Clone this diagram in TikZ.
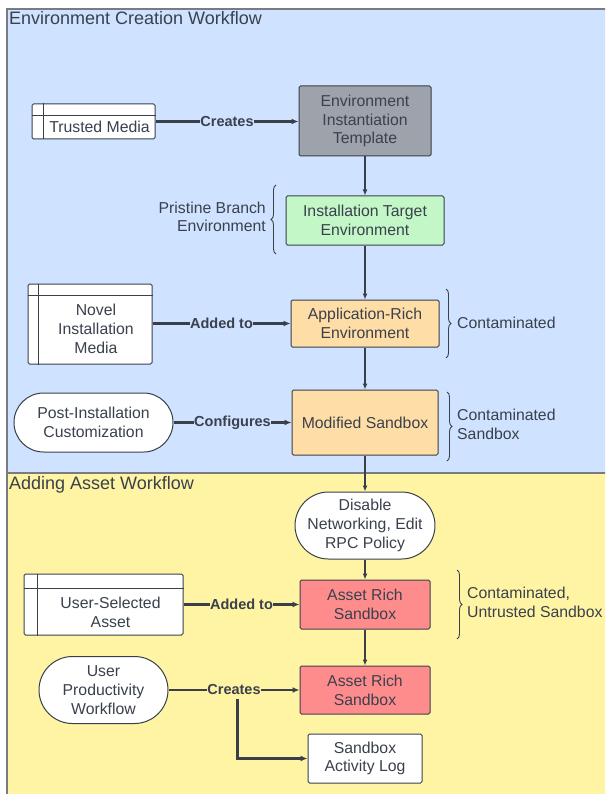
\documentclass[tikz,border=0pt]{standalone}
\usepackage{fontspec}
\setmainfont{Liberation Sans}
\usetikzlibrary{arrows.meta,decorations.pathreplacing,calc,shapes.misc}
\definecolor{lanebl}{RGB}{207,226,255}
\definecolor{laneye}{RGB}{255,244,163}
\definecolor{laneln}{RGB}{120,124,130}
\definecolor{ink}{RGB}{58,65,77}
\definecolor{edgec}{RGB}{58,64,74}
\definecolor{tgray}{RGB}{158,163,171}
\definecolor{tgreen}{RGB}{195,247,200}
\definecolor{torange}{RGB}{255,221,166}
\definecolor{tred}{RGB}{255,140,140}
\begin{document}
\begin{tikzpicture}[x=1pt,y=-1pt,
  every node/.style={text=ink, font=\fontsize{15.8}{18.7}\selectfont, align=center},
  bx/.style 2 args={draw=edgec, line width=1pt, rounded corners=1.5pt, minimum width=#1, minimum height=#2, inner sep=0pt},
  pill/.style 2 args={draw=edgec, line width=1pt, rounded rectangle, minimum width=#1, minimum height=#2, inner sep=0pt, fill=white},
  inline/.style={draw=edgec, line width=1pt},
  plain/.style={inner sep=0pt},
  lbl/.style={font=\bfseries\fontsize{14.5}{17}\selectfont, inner sep=0.5pt},
  harr/.style={draw=edgec, line width=2.2pt, -{Latex[length=7pt,width=6pt]}},
  varr/.style={draw=edgec, line width=1.4pt, -{Latex[length=6pt,width=5pt]}},
  brc/.style={draw=edgec, line width=0.9pt, decorate, decoration={brace, amplitude=5pt}},
  lanetitle/.style={anchor=base west, inner sep=0pt, font=\fontsize{18}{21}\selectfont}
]
\useasboundingbox (0,0) rectangle (605,794);
\begin{scope}
\clip (0,0) rectangle (605,794);
% swimlanes
\fill[lanebl] (7,9) rectangle (620,473);
\fill[laneye] (7,473) rectangle (620,810);
\draw[laneln, line width=1.6pt] (7,810) -- (7,9) -- (620,9);
\draw[laneln, line width=1.2pt] (7,473) -- (620,473);
\end{scope}
\node[lanetitle] (lt1) at (9,25) {Environment Creation Workflow};
\node[lanetitle] (lt2) at (9,489) {Adding Asset Workflow};

% ---- nodes, upper lane
\node[bx={123pt}{35pt}, fill=white] (tm) at (93.5,121.5) {};
\draw[inline] ([yshift=-12pt]tm.north west) -- ([yshift=-12pt]tm.north east);
\draw[inline] ([xshift=12pt]tm.north west) -- ([xshift=12pt]tm.south west);
\node[plain] (tmt) at (99.5,127) {Trusted Media};

\node[bx={132pt}{70pt}, fill=tgray] (tmp) at (365,121) {Environment\\Instantiation\\Template};
\node[bx={158pt}{49pt}, fill=tgreen] (itg) at (365,220.5) {Installation Target\\Environment};
\node[bx={148pt}{47pt}, fill=torange] (app) at (365,323.5) {Application-Rich\\Environment};

\node[bx={124pt}{80pt}, fill=white] (nim) at (90,324) {};
\draw[inline] ([yshift=-12pt]nim.north west) -- ([yshift=-12pt]nim.north east);
\draw[inline] ([xshift=11pt]nim.north west) -- ([xshift=11pt]nim.south west);
\node[plain] (nimt) at (96,329) {Novel\\Installation\\Media};

\node[bx={146pt}{65pt}, fill=torange] (mod) at (365,422.5) {Modified Sandbox};
\node[pill={159pt}{59pt}] (pic) at (93.5,422.5) {Post-Installation\\Customization};

% ---- nodes, lower lane
\node[pill={134pt}{67pt}] (dis) at (365,525.5) {Disable\\Networking, Edit\\RPC Policy};
\node[bx={130pt}{49pt}, fill=tred] (ar1) at (365,604.5) {Asset Rich\\Sandbox};

\node[bx={159pt}{61pt}, fill=white] (usa) at (103.5,604.5) {};
\draw[inline] ([yshift=-15pt]usa.north west) -- ([yshift=-15pt]usa.north east);
\draw[inline] ([xshift=14pt]usa.north west) -- ([xshift=14pt]usa.south west);
\node[plain] (usat) at (110.5,612) {User-Selected\\Asset};

\node[bx={130pt}{48pt}, fill=tred] (ar2) at (365,690) {Asset Rich\\Sandbox};
\node[pill={129pt}{67pt}] (upw) at (103.5,690) {User\\Productivity\\Workflow};
\node[bx={114pt}{49pt}, fill=white] (sal) at (365,758.5) {Sandbox\\Activity Log};

% ---- braces and their texts
\draw[brc] (276,254) -- (276,185);
\node[plain, anchor=east, align=right] (pbe) at (266,217) {Pristine Branch\\Environment};
\draw[brc] (446,289) -- (446,358);
\node[plain, anchor=west] (cn1) at (457,323) {Contaminated};
\draw[brc] (447,392) -- (447,461);
\node[plain, anchor=west, align=left] (cn2) at (457,424.5) {Contaminated\\Sandbox};
\draw[brc] (457,570) -- (457,639);
\node[plain, anchor=west, align=left] (cn3) at (467,602.5) {Contaminated,\\Untrusted Sandbox};

% ---- vertical connectors
\draw[varr] (tmp.south) -- (itg.north);
\draw[varr] (itg.south) -- (app.north);
\draw[varr] (app.south) -- (mod.north);
\draw[varr] (mod.south) -- (dis.north);
\draw[varr] (dis.south) -- (ar1.north);
\draw[varr] (ar1.south) -- (ar2.north);

% ---- horizontal connectors with labels
\draw[harr] (tm.east) -- node[lbl, fill=lanebl] (l1) {Creates} (tmp.west |- tm.east);
\draw[harr] (nim.east |- app.west) -- node[lbl, fill=lanebl] (l2) {Added to} (app.west);
\draw[harr] (pic.east) -- node[lbl, fill=lanebl] (l3) {Configures} (mod.west);
\draw[harr] (usa.east) -- node[lbl, fill=laneye] (l4) {Added to} (ar1.west);
\draw[harr] (upw.east |- ar2.west) -- node[lbl, fill=laneye] (l5) {Creates} (ar2.west);
\draw[harr] ($(l5.south)+(3.5,2)$) |- (sal.west);
\end{tikzpicture}
\end{document}
